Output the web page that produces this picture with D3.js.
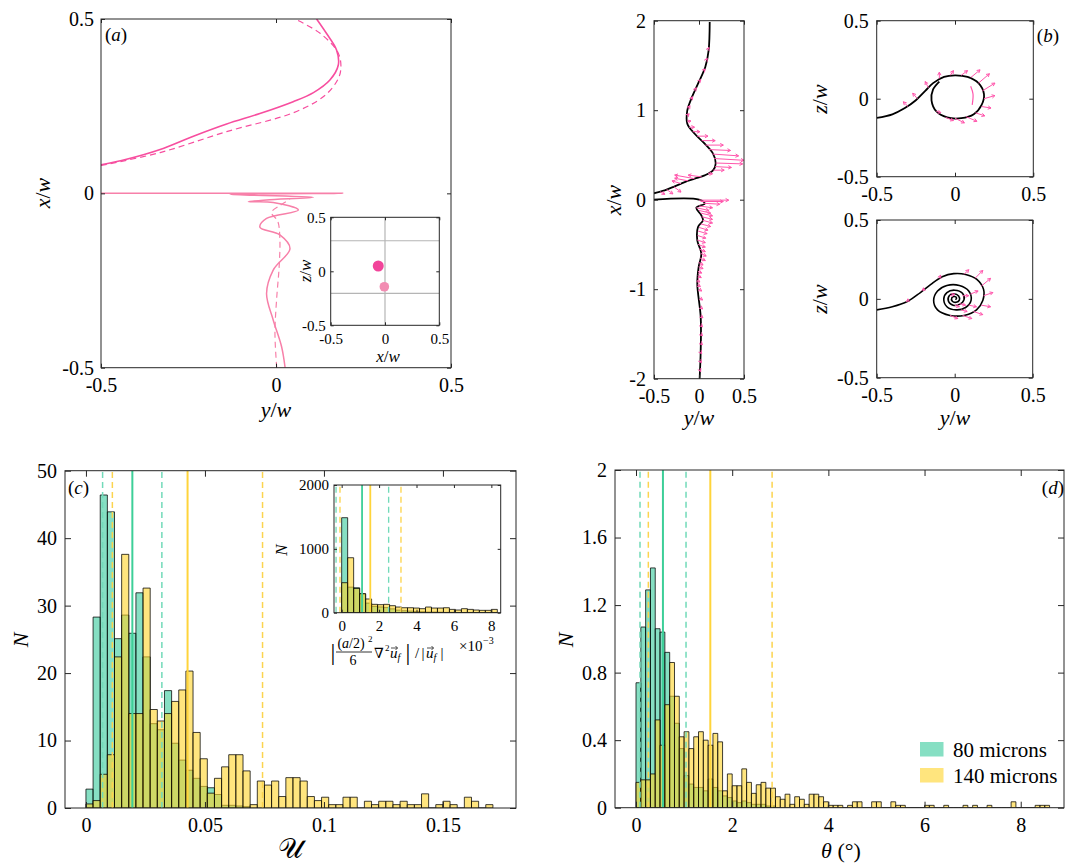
<!DOCTYPE html>
<html>
<head>
<meta charset="utf-8">
<script src="https://cdn.jsdelivr.net/npm/d3@7"></script>
<style>
  body { margin: 0; background: #fff; }
  svg { display: block; }
</style>
</head>
<body>
<script>
// ---------- data ----------
// (a) particle trajectories, [y/w, x/w]
const A_UP_SOLID = [[-0.5,0.082],[-0.427,0.098],[-0.331,0.126],[-0.236,0.164],[-0.141,0.199],[-0.046,0.229],[0.049,0.263],[0.107,0.289],[0.154,0.325],[0.178,0.368],[0.173,0.411],[0.144,0.459],[0.116,0.5]];
const A_UP_DASH = [[-0.5,0.080],[-0.331,0.117],[-0.141,0.177],[0.049,0.231],[0.135,0.277],[0.173,0.320],[0.185,0.354],[0.178,0.402],[0.126,0.459],[0.054,0.5]];
const A_LOW_SOLID = [[0.026,-0.5],[0.016,-0.44],[-0.008,-0.363],[-0.027,-0.287],[-0.008,-0.22],[0.040,-0.158],[0.011,-0.119],[-0.046,-0.097],[-0.027,-0.072],[0.064,-0.048],[-0.008,-0.026],[-0.079,-0.024],[-0.027,-0.019],[0.107,-0.011],[-0.131,-0.003],[0.191,0.0],[-0.5,0.0]];
const A_LOW_DASH = [[0.002,-0.5],[-0.003,-0.40],[0.002,-0.30],[0.009,-0.21],[0.011,-0.13],[0.005,-0.08],[-0.013,-0.055],[0.011,-0.035],[0.040,-0.017]];
// (a) inset: particle positions [x/w, z/w] and reference lines
const A_INSET_PTS = [[-0.062,0.049],[-0.006,-0.143]];
const A_INSET_HLINES = [0.283,-0.204];
const A_INSET_VLINES = [0];

// (b) strip [y/w, x/w]
const B_STRIP_UP = [[-0.5,0.072],[-0.381,0.104],[-0.270,0.149],[-0.159,0.197],[-0.048,0.235],[0.063,0.272],[0.156,0.328],[0.185,0.402],[0.156,0.514],[0.063,0.626],[-0.048,0.737],[-0.130,0.849],[-0.130,0.998],[-0.093,1.110],[-0.011,1.296],[0.070,1.482],[0.107,1.669],[0.119,1.985]];
const B_STRIP_LOW = [[-0.5,0.0],[0.0,0.0],[0.063,-0.045],[-0.03,-0.089],[0.026,-0.175],[0.044,-0.231],[-0.011,-0.305],[-0.019,-0.454],[0.026,-0.603],[-0.004,-0.752],[-0.019,-0.939],[0.019,-1.311],[0.019,-1.683],[0.007,-2.0]];
// arrows [y, x, dy, dx]
const B_STRIP_ARROWS = [
  [-0.43,0.09,0.05,-0.03],[-0.36,0.115,0.07,-0.05],[-0.28,0.145,0.08,-0.06],[-0.2,0.18,-0.1,0.03],
  [-0.12,0.21,-0.15,0.03],[-0.05,0.235,-0.22,0.04],[0.03,0.255,-0.15,0.02],[0.1,0.29,0.05,0.0],
  [0.16,0.33,0.12,0.0],[0.18,0.37,0.18,-0.01],[0.185,0.41,0.3,-0.01],[0.17,0.46,0.33,-0.02],
  [0.15,0.51,0.29,-0.02],[0.11,0.56,0.24,-0.01],[0.07,0.61,0.2,0.0],[0.03,0.66,0.15,0.0],
  [-0.02,0.71,0.12,0.0],[-0.07,0.76,0.08,0.0],[-0.11,0.81,0.06,0.0],[-0.13,0.87,0.04,0.01],
  [-0.13,0.94,0.02,0.02],[-0.12,1.02,0.02,0.03],[-0.09,1.12,0.02,0.03],[-0.05,1.22,0.02,0.03],
  [0.0,1.32,0.02,0.02],[0.05,1.44,0.02,0.02],[0.08,1.56,0.01,0.02],[0.1,1.68,0.01,0.02],
  [0.0,-0.005,0.33,0.0],[0.02,-0.02,0.25,0.0],[0.05,-0.04,0.18,-0.01],[0.0,-0.07,0.15,-0.02],
  [-0.03,-0.09,0.14,-0.03],[0.0,-0.12,0.13,-0.03],[0.02,-0.15,0.13,-0.03],[0.03,-0.19,0.12,-0.03],
  [0.04,-0.23,0.11,-0.03],[0.02,-0.27,0.11,-0.03],[0.0,-0.31,0.1,-0.03],[-0.01,-0.35,0.1,-0.03],
  [-0.015,-0.4,0.09,-0.03],[-0.02,-0.45,0.09,-0.03],[-0.01,-0.5,0.08,-0.03],[0.0,-0.55,0.07,-0.03],
  [0.02,-0.6,0.06,-0.03],[0.01,-0.65,0.06,-0.03],[-0.005,-0.7,0.05,-0.03],[-0.005,-0.75,0.05,-0.02],
  [-0.01,-0.8,0.04,-0.02],[-0.015,-0.85,0.04,-0.02],[-0.02,-0.9,0.03,-0.02],[-0.015,-0.95,0.03,-0.02],
  [0.0,-1.0,0.03,-0.02],[0.01,-1.1,0.03,-0.02],[0.015,-1.2,0.025,-0.02],[0.019,-1.3,0.025,-0.02],
  [0.019,-1.4,0.02,-0.02],[0.019,-1.5,0.02,-0.02],[0.018,-1.6,0.02,-0.02],[0.015,-1.7,0.015,-0.02],
  [0.012,-1.8,0.015,-0.02],[0.009,-1.9,0.01,-0.02]
];
// (b) cross sections [y/w, z/w]
const B_TOP = [[-0.5,-0.123],[-0.40,-0.10],[-0.32,-0.06],[-0.25,-0.01],[-0.19,0.05],[-0.14,0.10],[-0.07,0.14],[0.0,0.15],[0.08,0.14],[0.15,0.10],[0.185,0.03],[0.17,-0.04],[0.12,-0.10],[0.04,-0.125],[-0.05,-0.12],[-0.12,-0.08],[-0.15,-0.01],[-0.14,0.06],[-0.10,0.11]];
const B_TOP_PINK = [[0.10,0.08],[0.115,0.03],[0.11,-0.04]];
const B_TOP_ARROWS = [
  [-0.3,-0.05,-0.03,0.03],[-0.24,0.0,-0.03,0.035],[-0.17,0.07,-0.02,0.04],[-0.1,0.13,0.0,0.04],
  [-0.03,0.15,0.02,0.03],[0.04,0.15,0.04,0.03],[0.1,0.135,0.06,0.05],[0.15,0.1,0.07,0.06],
  [0.175,0.05,0.08,0.05],[0.185,0.0,0.07,0.02],[0.17,-0.05,0.06,-0.01],[0.13,-0.09,0.06,-0.02],
  [0.07,-0.115,0.07,-0.03],[0.0,-0.125,0.06,-0.03],[-0.06,-0.12,0.05,-0.02],[-0.12,-0.08,0.03,-0.01]
];
const B_BOT = [[-0.5,-0.07],[-0.40,-0.05],[-0.304,-0.017],[-0.22,0.04],[-0.155,0.09],[-0.08,0.14],[-0.006,0.16],[0.07,0.155],[0.14,0.125],[0.185,0.06],[0.18,-0.01],[0.14,-0.07],[0.06,-0.105],[-0.03,-0.105],[-0.11,-0.07],[-0.135,-0.01],[-0.11,0.05],[-0.05,0.085],[0.03,0.085],[0.09,0.05],[0.105,-0.01],[0.07,-0.055],[0.01,-0.07],[-0.05,-0.05],[-0.07,0.0],[-0.05,0.04],[0.0,0.055],[0.05,0.035],[0.06,-0.005],[0.03,-0.035],[-0.01,-0.04],[-0.04,-0.015],[-0.035,0.02],[-0.005,0.032],[0.025,0.018],[0.03,-0.008],[0.01,-0.022],[-0.015,-0.015],[-0.018,0.008],[0.0,0.015],[0.012,0.005],[0.005,-0.006]];
const B_BOT_ARROWS = [
  [-0.3,-0.02,0.0,0.02],[-0.2,0.05,0.0,0.02],[-0.1,0.13,0.01,0.02],[0.06,0.155,0.03,0.03],
  [0.13,0.13,0.05,0.05],[0.17,0.08,0.06,0.05],[0.185,0.02,0.06,0.02],[0.17,-0.04,0.06,-0.01],
  [0.12,-0.08,0.06,-0.02],[0.05,-0.105,0.06,-0.02],[-0.03,-0.105,0.05,-0.02],[0.1,0.03,0.05,0.02],
  [0.09,-0.04,0.05,-0.01],[0.04,-0.07,0.04,-0.01],[0.05,0.02,0.04,0.0],[0.03,-0.03,0.04,-0.01],
  [-0.03,0.02,0.03,0.01],[0.0,-0.04,0.03,-0.01]
];

// (c) histogram of U, bins of 0.003 starting at 0
const C_BIN = 0.003;
const C_80 = [2.8,28.3,46.4,43.9,25.1,28.6,25.9,31.9,22.4,12.5,11.6,17.4,9.6,7.1,5.6,4.4,3.2,3.0,2.0,0.4,0.4,0.3,0.2];
const C_140 = [0.6,1.1,5.0,7.9,22.4,37.6,14.0,14.0,32.6,14.6,12.9,14.0,15.8,17.5,20.3,11.2,7.3,2.2,4.4,6.1,7.9,7.9,5.5,0.5,4.0,3.4,4.0,1.7,4.5,4.5,4.0,1.7,1.1,1.6,0.5,0.5,1.6,1.6,0,1.0,0.5,1.0,1.0,0.5,1.0,0.5,0.5,2.1,0,0.5,1.0,0.5,0,1.6,1.0,0,0.5];
const C_80_LINES = [[0.0070,'d'],[0.0195,'s'],[0.0319,'d']];
const C_140_LINES = [[0.0111,'d'],[0.0427,'s'],[0.0742,'d']];
// (c) inset, bins of 0.32 (x1e-3)
const CI_BIN = 0.32;
const CI_80 = [1488,400,390,290,150,100,90,80,60,40,30,25,20,15,10,10,8,5,5,3,3,2,2,2,1,1];
const CI_140 = [470,861,380,300,215,131,126,131,110,89,78,78,73,63,89,73,73,78,52,42,63,52,42,37,37,52];
const CI_80_LINES = [[-0.30,'d'],[1.09,'s'],[2.51,'d']];
const CI_140_LINES = [[-0.09,'d'],[1.53,'s'],[3.17,'d']];

// (d) histogram of theta, bins of 0.1 deg
const D_BIN = 0.1;
const D_80 = [0.74,1.07,1.29,1.42,1.06,1.04,0.92,0.66,0.50,0.35,0.19,0.14,0.12,0.12,0.10,0.17,0.12,0.10,0.07,0.06,0.04,0.03,0.04,0.03,0.02,0.02,0.02,0.01,0.01];
const D_140 = [0.15,0.165,0.165,0.20,0.52,0.37,0.61,0.86,0.66,0.42,0.45,0.35,0.42,0.45,0.40,0.37,0.44,0.39,0.10,0.20,0.13,0.13,0.23,0.15,0.085,0.136,0.15,0.116,0.116,0.065,0.05,0.08,0.02,0.065,0.05,0.02,0.08,0.08,0.065,0.035,0.014,0.014,0.014,0,0.014,0.035,0.035,0,0,0.035,0.035,0,0,0.035,0.014,0.014,0,0,0,0,0.014,0.014,0,0,0.014,0,0,0,0.014,0,0.014,0,0,0.014,0,0,0,0,0.035,0,0,0,0,0.014,0.014,0.014];
const D_80_LINES = [[0.083,'d'],[0.56,'s'],[1.04,'d']];
const D_140_LINES = [[0.256,'d'],[1.545,'s'],[2.83,'d']];
const LEGEND = ['80 microns','140 microns'];

// ---------- style ----------
const FONT = '"Liberation Serif", "DejaVu Serif", serif';
const AX = '#262626';
const PINK = '#f74e9f', PINK_LIGHT = '#f780a9', ARROW = '#ff56ac';
const TEAL = 'rgb(34,196,146)', YEL = 'rgb(255,212,40)';
const TEAL_LINE = '#3dcf98', TEAL_DASH = '#72dab9', YEL_LINE = '#ffd43b', YEL_DASH = '#fcd44e';

const svg = d3.select('body').append('svg').attr('width', 1068).attr('height', 863);
const defs = svg.append('defs');
let clipId = 0;

function frame(x, y, xt, yt, o = {}) {
  const g = svg.append('g');
  const [x0, x1] = x.range(), [y0, y1] = y.range();
  const len = o.tick || 5, fs = o.fs || 20;
  const fmt = d => String(d);
  g.append('g').attr('transform', `translate(0,${y0})`)
    .call(d3.axisBottom(x).tickValues(xt).tickSize(-len).tickPadding(o.xpad || 10).tickFormat(o.xfmt || fmt));
  g.append('g').attr('transform', `translate(0,${y1})`)
    .call(d3.axisTop(x).tickValues(xt).tickSize(-len).tickFormat(''));
  g.append('g').attr('transform', `translate(${x0},0)`)
    .call(d3.axisLeft(y).tickValues(yt).tickSize(-len).tickPadding(o.ypad || 7).tickFormat(o.yfmt || fmt));
  g.append('g').attr('transform', `translate(${x1},0)`)
    .call(d3.axisRight(y).tickValues(yt).tickSize(-len).tickFormat(''));
  g.selectAll('.domain').remove();
  g.selectAll('.tick line').attr('stroke', AX);
  g.selectAll('.tick text').attr('font-family', FONT).attr('font-size', fs).attr('fill', '#000');
  g.append('rect').attr('x', x0).attr('y', y1).attr('width', x1 - x0).attr('height', y0 - y1)
    .attr('fill', 'none').attr('stroke', AX).attr('stroke-width', 1);
  return g;
}

function plotArea(x, y, bg) {
  const id = 'clip' + (clipId++);
  const [x0, x1] = x.range(), [y0, y1] = y.range();
  defs.append('clipPath').attr('id', id).append('rect')
    .attr('x', x0).attr('y', y1).attr('width', x1 - x0).attr('height', y0 - y1);
  if (bg) svg.append('rect').attr('x', x0).attr('y', y1).attr('width', x1 - x0).attr('height', y0 - y1).attr('fill', bg);
  return svg.append('g').attr('clip-path', `url(#${id})`);
}

function curve(g, x, y, pts, color, width, dash) {
  const line = d3.line().x(d => x(d[0])).y(d => y(d[1])).curve(d3.curveCatmullRom.alpha(0.5));
  g.append('path').attr('d', line(pts)).attr('fill', 'none').attr('stroke', color)
    .attr('stroke-width', width).attr('stroke-dasharray', dash || null).attr('stroke-linejoin', 'round');
}

function quiver(g, x, y, data) {
  const head = 3.5;
  g.selectAll(null).data(data).join('path')
    .attr('d', ([a, b, da, db]) => {
      const x0 = x(a), y0 = y(b), x1 = x(a + da), y1 = y(b + db);
      const ang = Math.atan2(y1 - y0, x1 - x0);
      const h1 = [x1 - head * Math.cos(ang - 0.5), y1 - head * Math.sin(ang - 0.5)];
      const h2 = [x1 - head * Math.cos(ang + 0.5), y1 - head * Math.sin(ang + 0.5)];
      return `M${x0},${y0}L${x1},${y1}M${h1}L${x1},${y1}L${h2}`;
    })
    .attr('fill', 'none').attr('stroke', ARROW).attr('stroke-width', 1);
}

function bars(g, x, y, vals, w, fill, op) {
  g.selectAll(null).data(vals).join('path')
    .attr('d', (v, i) => `M${x(i * w)},${y(0)}V${y(v)}H${x((i + 1) * w)}V${y(0)}Z`)
    .attr('fill', fill).attr('fill-opacity', op)
    .attr('stroke', '#000').attr('stroke-opacity', 0.75).attr('stroke-width', 1);
}

function vlines(g, x, y, lines, solid, dashed, sw) {
  g.selectAll(null).data(lines).join('line')
    .attr('x1', d => x(d[0])).attr('x2', d => x(d[0]))
    .attr('y1', y.range()[0]).attr('y2', y.range()[1])
    .attr('stroke', d => d[1] === 's' ? solid : dashed)
    .attr('stroke-width', d => d[1] === 's' ? sw : sw * 0.75)
    .attr('stroke-dasharray', d => d[1] === 's' ? null : '6,4');
}

function label(txt, x, y, size, opts = {}) {
  const t = svg.append('text').attr('x', x).attr('y', y).attr('font-family', FONT)
    .attr('font-size', size).attr('text-anchor', opts.anchor || 'middle').attr('fill', '#000');
  if (opts.rot) t.attr('transform', `rotate(-90,${x},${y})`);
  txt.forEach(([s, it]) => t.append('tspan').attr('font-style', it ? 'italic' : 'normal').text(s));
  return t;
}

// vector u_f: italic u with a drawn arrow accent and an f subscript, at (x, baseline y)
function vecU(x, y) {
  label([['u', 1]], x, y, 15, { anchor: 'start' });
  svg.append('path')
    .attr('d', `M${x + 1},${y - 10}H${x + 7.5}M${x + 5.5},${y - 12}L${x + 7.5},${y - 10}L${x + 5.5},${y - 8}`)
    .attr('fill', 'none').attr('stroke', '#000').attr('stroke-width', 0.7);
  label([['f', 1]], x + 7.5, y + 3, 10, { anchor: 'start' });
}

// ---------- (a) ----------
{
  const x = d3.scaleLinear().domain([-0.5, 0.5]).range([101, 451]);
  const y = d3.scaleLinear().domain([-0.5, 0.5]).range([367.7, 19]);
  const g = plotArea(x, y);
  curve(g, x, y, A_LOW_DASH, PINK_LIGHT, 1.2, '6,4');
  curve(g, x, y, A_LOW_SOLID, PINK_LIGHT, 1.5);
  curve(g, x, y, A_UP_DASH, PINK, 1.2, '6,4');
  curve(g, x, y, A_UP_SOLID, PINK, 1.6);
  frame(x, y, [-0.5, 0, 0.5], [-0.5, 0, 0.5], { tick: 4 });
  label([['y', 1], ['/', 0], ['w', 1]], 276, 417, 22);
  label([['x', 1], ['/', 0], ['w', 1]], 50, 193, 22, { rot: 1 });
  label([['(', 0], ['a', 1], [')', 0]], 105, 41, 19, { anchor: 'start' });

  // inset
  const xi = d3.scaleLinear().domain([-0.5, 0.5]).range([330.7, 439.3]);
  const yi = d3.scaleLinear().domain([-0.5, 0.5]).range([325.3, 217.3]);
  const gi = plotArea(xi, yi, '#fff');
  gi.selectAll(null).data(A_INSET_HLINES).join('line')
    .attr('x1', xi.range()[0]).attr('x2', xi.range()[1]).attr('y1', d => yi(d)).attr('y2', d => yi(d))
    .attr('stroke', '#b5b5b5').attr('stroke-width', 1.2);
  gi.selectAll(null).data(A_INSET_VLINES).join('line')
    .attr('y1', yi.range()[0]).attr('y2', yi.range()[1]).attr('x1', d => xi(d)).attr('x2', d => xi(d))
    .attr('stroke', '#b5b5b5').attr('stroke-width', 1.2);
  gi.selectAll(null).data(A_INSET_PTS).join('circle')
    .attr('cx', d => xi(d[0])).attr('cy', d => yi(d[1]))
    .attr('r', (d, i) => i === 0 ? 5.5 : 4.8)
    .attr('fill', (d, i) => i === 0 ? '#f2449a' : '#f28cb2');
  frame(xi, yi, [-0.5, 0, 0.5], [-0.5, 0, 0.5], { tick: 3, fs: 15, xpad: 8, ypad: 5 });
  label([['x', 1], ['/', 0], ['w', 1]], 388, 362, 17);
  label([['z', 1], ['/', 0], ['w', 1]], 311, 271, 17, { rot: 1 });
}

// ---------- (b) ----------
{
  const x = d3.scaleLinear().domain([-0.5, 0.5]).range([654, 744]);
  const y = d3.scaleLinear().domain([-2, 2]).range([378.7, 20.7]);
  const g = plotArea(x, y);
  curve(g, x, y, B_STRIP_UP, '#000', 1.8);
  curve(g, x, y, B_STRIP_LOW, '#000', 1.8);
  quiver(g, x, y, B_STRIP_ARROWS);
  frame(x, y, [-0.5, 0, 0.5], [-2, -1, 0, 1, 2], { tick: 4, ypad: 8 });
  label([['y', 1], ['/', 0], ['w', 1]], 699, 425, 22);
  label([['x', 1], ['/', 0], ['w', 1]], 621, 200, 22, { rot: 1 });

  const xt = d3.scaleLinear().domain([-0.5, 0.5]).range([876.7, 1033.3]);
  const yt = d3.scaleLinear().domain([-0.5, 0.5]).range([176.7, 20.7]);
  const gt = plotArea(xt, yt);
  curve(gt, xt, yt, B_TOP_PINK, ARROW, 1.2);
  curve(gt, xt, yt, B_TOP, '#000', 1.8);
  quiver(gt, xt, yt, B_TOP_ARROWS);
  frame(xt, yt, [-0.5, 0, 0.5], [-0.5, 0, 0.5], { tick: 4, ypad: 8 });
  label([['z', 1], ['/', 0], ['w', 1]], 827, 99, 22, { rot: 1 });
  label([['(', 0], ['b', 1], [')', 0]], 1059, 42, 19, { anchor: 'end' });

  const xb = d3.scaleLinear().domain([-0.5, 0.5]).range([876.7, 1032.7]);
  const yb = d3.scaleLinear().domain([-0.5, 0.5]).range([377.7, 220]);
  const gb = plotArea(xb, yb);
  curve(gb, xb, yb, B_BOT, '#000', 1.6);
  quiver(gb, xb, yb, B_BOT_ARROWS);
  frame(xb, yb, [-0.5, 0, 0.5], [-0.5, 0, 0.5], { tick: 4, ypad: 8 });
  label([['y', 1], ['/', 0], ['w', 1]], 955, 425, 22);
  label([['z', 1], ['/', 0], ['w', 1]], 827, 299, 22, { rot: 1 });
}

// ---------- (c) ----------
{
  const x = d3.scaleLinear().domain([-0.0088, 0.1807]).range([65, 516]);
  const y = d3.scaleLinear().domain([0, 50]).range([808, 470.7]);
  const g = plotArea(x, y);
  bars(g, x, y, C_80, C_BIN, TEAL, 0.55);
  bars(g, x, y, C_140, C_BIN, YEL, 0.6);
  vlines(g, x, y, C_80_LINES, TEAL_LINE, TEAL_DASH, 2);
  vlines(g, x, y, C_140_LINES, YEL_LINE, YEL_DASH, 2);
  frame(x, y, [0, 0.05, 0.1, 0.15], [0, 10, 20, 30, 40, 50], { tick: 6, ypad: 8 });
  label([['\u{1D4B0}', 0]], 290, 858, 28);
  label([['N', 1]], 28, 640, 22, { rot: 1 });
  label([['(', 0], ['c', 1], [')', 0]], 68, 494, 19, { anchor: 'start' });

  // inset
  const xi = d3.scaleLinear().domain([-0.41, 8.5]).range([334, 500.7]);
  const yi = d3.scaleLinear().domain([0, 2000]).range([612.7, 485]);
  const gi = plotArea(xi, yi, '#fff');
  bars(gi, xi, yi, CI_80, CI_BIN, TEAL, 0.55);
  bars(gi, xi, yi, CI_140, CI_BIN, YEL, 0.6);
  vlines(gi, xi, yi, CI_80_LINES, TEAL_LINE, TEAL_DASH, 1.8);
  vlines(gi, xi, yi, CI_140_LINES, YEL_LINE, YEL_DASH, 1.8);
  frame(xi, yi, [0, 2, 4, 6, 8], [0, 1000, 2000], { tick: 3, fs: 15, xpad: 8, ypad: 5 });
  label([['N', 1]], 287, 550, 17, { rot: 1 });
  // x label: |(a/2)^2/6 grad^2 u_f| / |u_f|   x10^-3
  label([['|', 0]], 333, 660, 24);
  label([['(', 0], ['a', 1], ['/2)', 0]], 351, 648, 14);
  label([['2', 0]], 368, 642, 9, { anchor: 'start' });
  svg.append('line').attr('x1', 336).attr('x2', 372).attr('y1', 652).attr('y2', 652)
    .attr('stroke', '#000').attr('stroke-width', 0.8);
  label([['6', 0]], 353, 665, 14);
  label([['\u2207', 0]], 374, 658, 14, { anchor: 'start' });
  label([['2', 0]], 385, 651, 9, { anchor: 'start' });
  vecU(390, 658);
  label([['|', 0]], 408, 660, 24);
  label([['/', 0]], 417, 658, 15);
  label([['|', 0]], 423, 658, 15);
  vecU(426, 658);
  label([['|', 0]], 442, 658, 15);
  label([['\u00D710', 0]], 459, 651, 15, { anchor: 'start' });
  label([['\u22123', 0]], 483, 644, 10, { anchor: 'start' });
}

// ---------- (d) ----------
{
  const x = d3.scaleLinear().domain([-0.437, 8.9]).range([615, 1064]);
  const y = d3.scaleLinear().domain([0, 2]).range([807.7, 470]);
  const g = plotArea(x, y);
  bars(g, x, y, D_80, D_BIN, TEAL, 0.55);
  bars(g, x, y, D_140, D_BIN, YEL, 0.6);
  vlines(g, x, y, D_80_LINES, TEAL_LINE, TEAL_DASH, 2);
  vlines(g, x, y, D_140_LINES, YEL_LINE, YEL_DASH, 2);
  frame(x, y, [0, 2, 4, 6, 8], [0, 0.4, 0.8, 1.2, 1.6, 2], { tick: 6, ypad: 8 });
  label([['\u03B8', 1], [' (\u00B0)', 0]], 841, 858, 22);
  label([['N', 1]], 573, 640, 22, { rot: 1 });
  label([['(', 0], ['d', 1], [')', 0]], 1064, 494, 19, { anchor: 'end' });

  const lg = svg.append('g');
  lg.selectAll('rect').data(LEGEND).join('rect')
    .attr('x', 920).attr('y', (d, i) => 742 + i * 26).attr('width', 23.5).attr('height', 14.5)
    .attr('fill', (d, i) => i === 0 ? TEAL : YEL).attr('fill-opacity', (d, i) => i === 0 ? 0.55 : 0.6);
  lg.selectAll('text').data(LEGEND).join('text')
    .attr('x', 953).attr('y', (d, i) => 757 + i * 26)
    .attr('font-family', FONT).attr('font-size', 21).text(d => d);
}
</script>
</body>
</html>
